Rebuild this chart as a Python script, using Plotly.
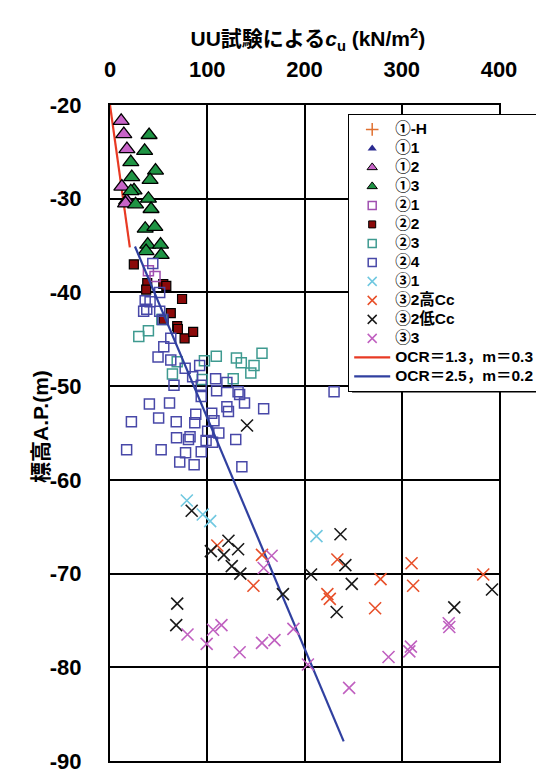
import plotly.graph_objects as go

# ---- data ----
g1H_x, g1H_y = [], []
g11_x, g11_y = [], []
g12_x = [11.5, 14.2, 17.4, 12.2, 17.1, 16.0]
g12_y = [-21.7, -23.1, -24.7, -28.7, -30.2, -30.5]
g13_x = [40.2, 35.6, 21.4, 46.8, 22.4, 41.2, 24.7, 21.4, 39.5, 26.3, 42.2, 36.2, 46.1, 38.8, 52.0, 37.1, 52.6]
g13_y = [-23.2, -24.9, -26.1, -27.0, -27.7, -28.0, -29.1, -29.2, -30.0, -30.6, -31.1, -33.2, -33.0, -34.9, -34.9, -35.6, -36.0]
g21_x = [39.5, 46.3]
g21_y = [-37.7, -38.3]
g22_x = [24.5, 38.3, 37.2, 54.8, 57.9, 74.1, 62.5, 55.2, 69.1, 69.8, 76.7, 85.5]
g22_y = [-37.0, -39.0, -39.7, -39.1, -39.3, -40.7, -42.2, -42.9, -43.6, -43.9, -44.9, -44.2]
g23_x = [29.6, 39.5, 53.3, 69.1, 64.2, 97.1, 109.3, 130.0, 135.0, 148.1, 144.8, 156.3, 94.8, 126.7]
g23_y = [-44.7, -44.1, -42.9, -47.4, -48.7, -47.3, -46.8, -47.0, -47.5, -47.8, -48.6, -46.5, -49.3, -49.2]
g24_x = [44.0, 51.1, 36.2, 37.8, 41.2, 34.6, 51.1, 54.3, 62.5, 55.3, 49.4, 62.5, 77.3, 92.2, 85.0,
         93.8, 65.8, 108.6, 120.2, 109.6, 131.7, 133.3, 93.8, 138.3, 158.0, 40.5, 61.2, 120.2, 121.8,
         88.2, 104.6, 22.0, 50.0, 68.1, 87.2, 106.9, 100.4, 111.9, 68.4, 82.3, 80.7, 98.8, 105.4, 129.3,
         17.1, 52.6, 77.7, 93.8, 71.7, 86.5, 135.6, 230.4]
g24_y = [-36.9, -40.0, -40.9, -41.8, -41.0, -42.0, -42.0, -42.9, -44.9, -45.8, -46.9, -47.2, -48.1, -47.8, -49.0,
         -49.9, -49.9, -49.2, -49.6, -50.5, -50.6, -50.9, -51.1, -51.8, -52.4, -51.9, -51.8, -52.2, -52.7,
         -53.0, -52.9, -53.8, -53.4, -53.8, -53.9, -53.7, -54.8, -55.0, -55.5, -55.4, -55.7, -55.8, -56.0, -55.7,
         -56.8, -56.8, -57.1, -57.0, -58.1, -58.4, -58.6, -50.6]
g31_x = [79.0, 95.4, 103.0, 212.3]
g31_y = [-62.2, -63.7, -64.4, -66.0]
g32h_x = [110.3, 156.3, 147.5, 233.8, 278.2, 310.1, 311.7, 383.8, 223.5, 226.0, 272.6]
g32h_y = [-67.0, -68.0, -71.3, -68.5, -70.6, -68.9, -71.3, -70.1, -72.2, -72.7, -73.7]
g32l_x = [140.9, 84.0, 121.8, 103.7, 117.1, 131.7, 125.2, 134.0, 177.8, 206.7, 69.1, 68.1, 237.0, 242.0,
          248.6, 233.1, 354.0, 392.8]
g32l_y = [-54.2, -63.3, -66.5, -67.6, -68.0, -67.4, -69.2, -70.0, -72.2, -70.1, -73.2, -75.5, -65.8, -69.1,
          -71.1, -74.1, -73.6, -71.7]
g33_x = [166.2, 158.0, 79.7, 99.4, 106.0, 114.6, 133.3, 156.3, 169.1, 188.6, 203.5, 286.4, 307.8, 309.4,
         348.3, 348.9, 245.9]
g33_y = [-68.1, -69.4, -76.5, -77.5, -76.0, -75.5, -78.4, -77.4, -77.1, -75.9, -79.7, -78.9, -78.3, -77.8,
         -75.3, -75.7, -82.2]
ocr13_x = [0.0, 20.4]
ocr13_y = [-20.0, -35.2]
ocr25_x = [25.7, 240.3]
ocr25_y = [-35.1, -87.9]

x_ticks = [0, 100, 200, 300, 400]
y_ticks = [-20, -30, -40, -50, -60, -70, -80, -90]

names = ["①-H", "①1", "①2", "①3", "②1", "②2", "②3", "②4", "③1", "③2高Cc", "③2低Cc", "③3",
         "OCR＝1.3，m＝0.3", "OCR＝2.5，m＝0.2"]

C_1H = "#E07030"; C_11 = "#2A2A90"; C_12 = "#C864C8"; C_13 = "#1F9444"
C_21 = "#A050B0"; C_22 = "#8B0A0A"; C_23 = "#3E9A90"; C_24 = "#4848A8"
C_31 = "#70C8E0"; C_32H = "#E8502A"; C_32L = "#1A1A1A"; C_33 = "#C060C0"
C_R = "#E83A24"; C_B = "#3040A0"

FONT = "Liberation Sans, Arial, Noto Sans CJK JP, sans-serif"

fig = go.Figure()

def pts(x, y, sym, color, size, lw, lc=None):
    mk = dict(symbol=sym, size=size, color=color, line=dict(width=lw, color=lc if lc else color))
    fig.add_trace(go.Scatter(x=x, y=y, mode="markers", marker=mk, showlegend=False, hoverinfo="skip"))

# plotted marks
fig.add_trace(go.Scatter(x=ocr13_x, y=ocr13_y, mode="lines", line=dict(color=C_R, width=2.2),
                         showlegend=False, hoverinfo="skip"))
pts(g1H_x, g1H_y, "cross-thin", C_1H, 12, 1.5)
pts(g11_x, g11_y, "triangle-up", C_11, 13, 1, "black")
pts(g12_x, g12_y, "triangle-up", C_12, 14, 1.3, "black")
pts(g13_x, g13_y, "triangle-up", C_13, 14, 1.3, "black")
pts(g22_x, g22_y, "square", C_22, 9, 1.2, "black")
pts(g21_x, g21_y, "square-open", C_21, 10, 1.5)
pts(g23_x, g23_y, "square-open", C_23, 10, 1.5)
pts(g24_x, g24_y, "square-open", C_24, 10, 1.5)
fig.add_trace(go.Scatter(x=ocr25_x, y=ocr25_y, mode="lines", line=dict(color=C_B, width=2.2),
                         showlegend=False, hoverinfo="skip"))
pts(g31_x, g31_y, "x-thin", C_31, 12, 1.6)
pts(g32h_x, g32h_y, "x-thin", C_32H, 12, 1.6)
pts(g32l_x, g32l_y, "x-thin", C_32L, 12, 1.6)
pts(g33_x, g33_y, "x-thin", C_33, 12, 1.6)

# legend entries
LEG_SPAN = '<span style="font-size:15.5px">{}</span>'
leg = [
    ("cross-thin", C_1H, 9, 1.5, C_1H),
    ("triangle-up", C_11, 8, 0, C_11),
    ("triangle-up", C_12, 9, 1, "black"),
    ("triangle-up", C_13, 9, 1, "black"),
    ("square-open", C_21, 8, 1.5, C_21),
    ("square", C_22, 7, 1, "black"),
    ("square-open", C_23, 8, 1.5, C_23),
    ("square-open", C_24, 8, 1.5, C_24),
    ("x-thin", C_31, 9, 1.5, C_31),
    ("x-thin", C_32H, 9, 1.5, C_32H),
    ("x-thin", C_32L, 9, 1.5, C_32L),
    ("x-thin", C_33, 9, 1.5, C_33),
]
for (sym, col, sz, lw, lc), nm in zip(leg, names[:12]):
    fig.add_trace(go.Scatter(x=[None], y=[None], mode="markers", name=LEG_SPAN.format(nm),
                             marker=dict(symbol=sym, size=sz, color=col, line=dict(width=lw, color=lc))))
fig.add_trace(go.Scatter(x=[None], y=[None], mode="lines", name=LEG_SPAN.format(names[12]),
                         line=dict(color=C_R, width=2.2)))
fig.add_trace(go.Scatter(x=[None], y=[None], mode="lines", name=LEG_SPAN.format(names[13]),
                         line=dict(color=C_B, width=2.2)))

# figure-pixel helpers (plot area 405 x 664 starting at 102, 97)
L, T, PW, PH = 102, 97, 405, 664
def px2x(p): return (p - L) / PW
def px2y(p): return 1 - (p - T) / PH

# legend shadow
fig.add_shape(type="rect", xref="paper", yref="paper",
              x0=px2x(354), x1=px2x(560), y0=px2y(388), y1=px2y(110),
              fillcolor="black", line=dict(width=0), layer="above")

# y-axis title
fig.add_annotation(text="標高A.P.(m)", textangle=-90, xref="paper", yref="paper",
                   x=px2x(29), y=px2y(422), xanchor="center", yanchor="middle", showarrow=False,
                   font=dict(family=FONT, size=21, weight="bold", color="black"))

fig.update_layout(
    width=544, height=778,
    margin=dict(l=102, r=37, t=97, b=17),
    paper_bgcolor="white", plot_bgcolor="white",
    font=dict(family=FONT, color="black"),
    title=dict(text="UU試験による<i>c</i><sub>u</sub> (kN/m<sup>2</sup>)",
               font=dict(family=FONT, size=21, weight="bold", color="black"),
               x=px2x(308), xref="paper", xanchor="center",
               y=1 - 31 / 778, yref="container", yanchor="middle"),
    legend=dict(x=px2x(350), y=px2y(106), xanchor="left", yanchor="top",
                bgcolor="white", bordercolor="black", borderwidth=1,
                font=dict(family=FONT, size=11.5, weight="bold", color="black"),
                tracegroupgap=0, itemwidth=36),
    showlegend=True,
)
fig.update_xaxes(side="top", range=[0, 400], tickvals=x_ticks, ticktext=[str(v) for v in x_ticks],
                 showgrid=True, gridcolor="black", gridwidth=1.5, zeroline=False,
                 showline=True, linecolor="black", linewidth=2, mirror=True,
                 ticks="outside", ticklen=17, tickcolor="rgba(0,0,0,0)",
                 tickfont=dict(family=FONT, size=22, weight="bold", color="black"))
fig.update_yaxes(range=[-90, -20], tickvals=y_ticks, ticktext=[str(v) for v in y_ticks],
                 showgrid=True, gridcolor="black", gridwidth=1.5, zeroline=False,
                 showline=True, linecolor="black", linewidth=2, mirror=True,
                 ticks="outside", ticklen=22, tickcolor="rgba(0,0,0,0)",
                 tickfont=dict(family=FONT, size=22, weight="bold", color="black"))

fig.write_html("out.html")
